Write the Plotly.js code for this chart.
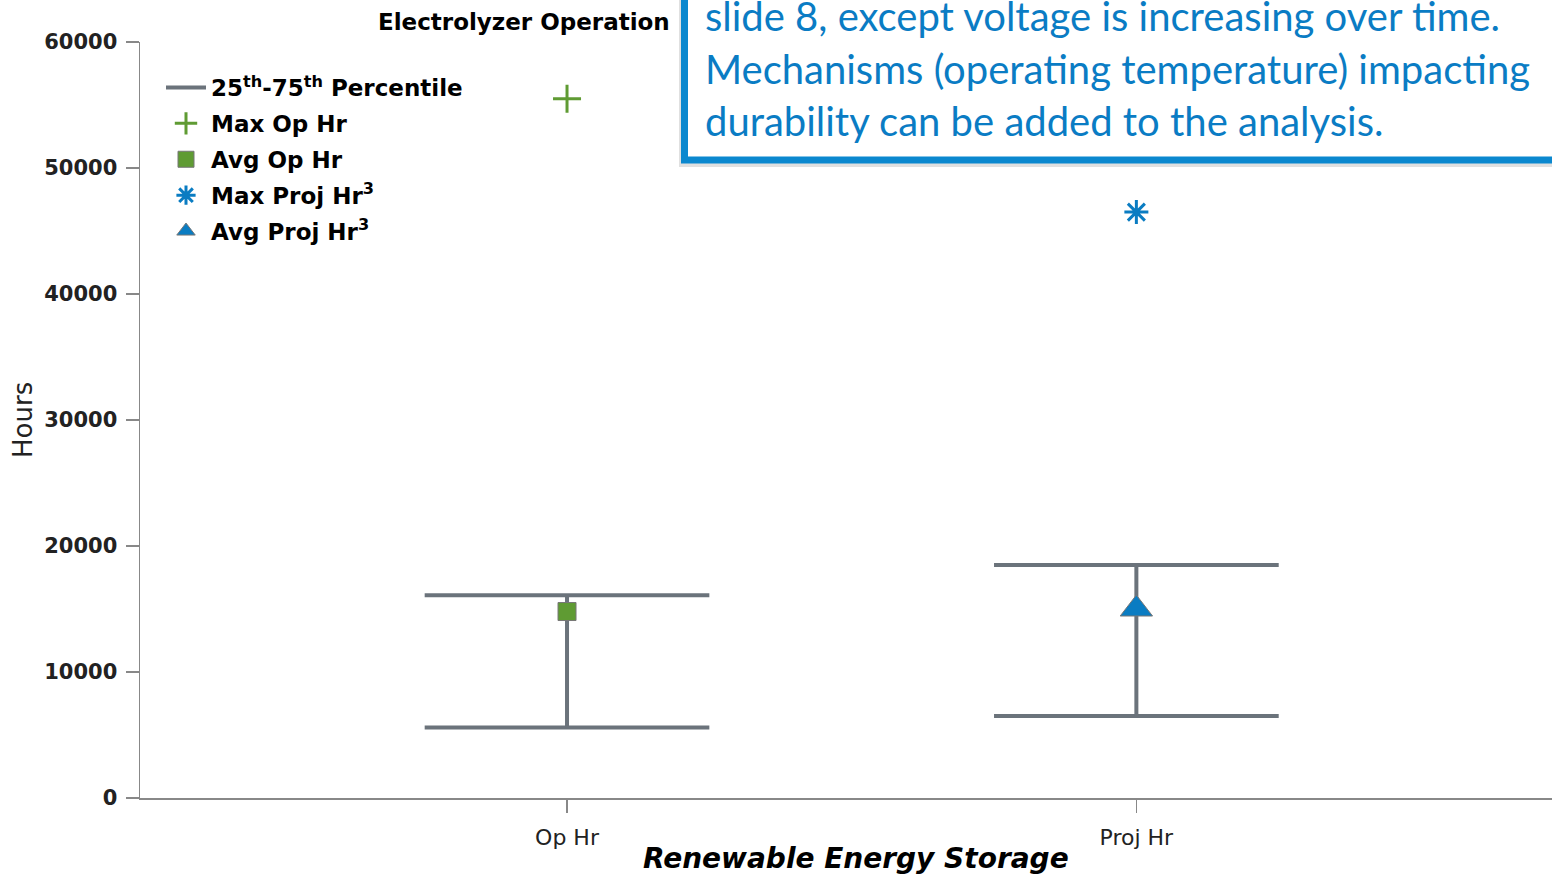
<!DOCTYPE html>
<html>
<head>
<meta charset="utf-8">
<script src="https://cdn.plot.ly/plotly-3.0.1.min.js"></script>
<style>
  html, body { margin: 0; padding: 0; background: #ffffff; }
  #chart { width: 1552px; height: 876px; }
</style>
</head>
<body>
<div id="chart"></div>
<script>
// ---- data ----
var categories = ['Op Hr', 'Proj Hr'];
var p25 = [5600, 6500];
var p75 = [16100, 18500];
var maxOpHr = [55500];
var avgOpHr = [14800];
var maxProjHr = [46500];
var avgProjHr = [15000];
var seriesNames = ['25<sup>th</sup>-75<sup>th</sup> Percentile', 'Max Op Hr', 'Avg Op Hr',
                   'Max Proj Hr<sup>3</sup>', 'Avg Proj Hr<sup>3</sup>'];
var chartTitle = 'Electrolyzer Operation';
var xTitle = 'Renewable Energy Storage';
var yTitle = 'Hours';
var noteLines = ['slide 8, except voltage is increasing over time.',
                 'Mechanisms (operating temperature) impacting',
                 'durability can be added to the analysis.'];

// ---- styling ----
var capHalf = 0.25;
var gray = '#6b737b';
var green = '#5f9b33';
var blue = '#0a7cc2';
var boxBlue = '#0b88cf';
var textBlue = '#0a7cc4';

// build percentile whiskers from data
var px = [], py = [];
for (var i = 0; i < categories.length; i++) {
  px.push(i - capHalf, i + capHalf, null, i, i, null, i - capHalf, i + capHalf, null);
  py.push(p25[i], p25[i], null, p25[i], p75[i], null, p75[i], p75[i], null);
}
var idxOp = categories.indexOf('Op Hr');
var idxProj = categories.indexOf('Proj Hr');

var traces = [
  { x: px, y: py, mode: 'lines', name: seriesNames[0], legendgroup: 'a',
    line: { color: gray, width: 4 }, hoverinfo: 'skip' },
  { x: [idxOp], y: maxOpHr, mode: 'markers', name: seriesNames[1], legendgroup: 'b',
    marker: { symbol: 'cross-thin', size: 20, color: green, line: { color: green, width: 3 } } },
  { x: [idxOp], y: avgOpHr, mode: 'markers', name: seriesNames[2], legendgroup: 'c',
    marker: { symbol: 'square', size: 18, color: green, line: { color: '#777', width: 1 } } },
  { x: [idxProj], y: maxProjHr, mode: 'markers', name: seriesNames[3], legendgroup: 'd',
    marker: { symbol: 'asterisk-open', size: 20, color: blue, line: { color: blue, width: 3 } } },
  { x: [idxProj], y: avgProjHr, mode: 'markers', name: seriesNames[4], legendgroup: 'e',
    marker: { symbol: 'triangle-up', size: 28, color: blue, line: { color: '#777', width: 1 } } }
];

// layout helpers (pixel -> paper)
var L = 140, T = 42, W = 1552 - 140, H = 798 - 42;
function pxX(p) { return (p - L) / W; }
function pxY(p) { return (T + H - p) / H; }

var annotations = [
  { text: '<b>' + chartTitle + '</b>', xref: 'paper', yref: 'paper', x: pxX(524), y: pxY(22),
    xanchor: 'center', yanchor: 'middle', showarrow: false,
    font: { family: 'DejaVu Sans', size: 23, color: '#000' } },
  { text: '<b><i>' + xTitle + '</i></b>', xref: 'paper', yref: 'paper', x: pxX(856), y: pxY(858),
    xanchor: 'center', yanchor: 'middle', showarrow: false,
    font: { family: 'DejaVu Sans', size: 28, color: '#000' } },
  { text: yTitle, xref: 'paper', yref: 'paper', x: pxX(23), y: 0.5, textangle: -90,
    xanchor: 'center', yanchor: 'middle', showarrow: false,
    font: { family: 'DejaVu Sans', size: 26, color: '#222' } }
];
var lineY = [16, 69, 121];
for (var k = 0; k < noteLines.length; k++) {
  annotations.push({ text: noteLines[k], xref: 'paper', yref: 'paper', x: pxX(703), y: pxY(lineY[k]),
    xanchor: 'left', yanchor: 'middle', showarrow: false,
    font: { family: 'Lato', size: 40, color: textBlue } });
}

var layout = {
  width: 1552, height: 876,
  margin: { l: L, r: 0, t: T, b: 876 - 798 },
  paper_bgcolor: '#fff', plot_bgcolor: '#fff',
  showlegend: true,
  legend: { x: pxX(161), y: pxY(66), xanchor: 'left', yanchor: 'top', bgcolor: 'rgba(0,0,0,0)',
    font: { family: 'DejaVu Sans', size: 23, color: '#000', weight: 'bold' },
    tracegroupgap: 3, itemwidth: 40 },
  xaxis: { range: [-0.75, 1.73], tickvals: categories.map(function (c, i) { return i; }),
    ticktext: categories, ticks: 'outside', ticklen: 13, tickcolor: '#888', tickwidth: 1.5,
    ticklabelstandoff: 6,
    showline: true, linecolor: '#888', linewidth: 1.5, showgrid: false, zeroline: false,
    tickfont: { family: 'DejaVu Sans', size: 22, color: '#222' }, fixedrange: true },
  yaxis: { range: [0, 60000], dtick: 10000, tickformat: 'd', ticks: 'outside', ticklen: 13,
    tickcolor: '#888', tickwidth: 1.5, showline: true, linecolor: '#888', linewidth: 1.5,
    showgrid: false, zeroline: false, ticklabelstandoff: 4,
    tickfont: { family: 'DejaVu Sans', size: 21, color: '#222', weight: 'bold' }, fixedrange: true },
  shapes: [
    { type: 'rect', xref: 'paper', yref: 'paper', x0: pxX(679), x1: pxX(1600), y0: pxY(167), y1: pxY(-20),
      fillcolor: 'rgba(0,0,0,0.12)', line: { width: 0 }, layer: 'above' },
    { type: 'rect', xref: 'paper', yref: 'paper', x0: pxX(684.5), x1: pxX(1600), y0: pxY(160), y1: pxY(-20),
      fillcolor: '#fff', line: { color: boxBlue, width: 7 }, layer: 'above' }
  ],
  annotations: annotations
};

Plotly.newPlot('chart', traces, layout, { displayModeBar: false, staticPlot: true });
</script>
</body>
</html>
